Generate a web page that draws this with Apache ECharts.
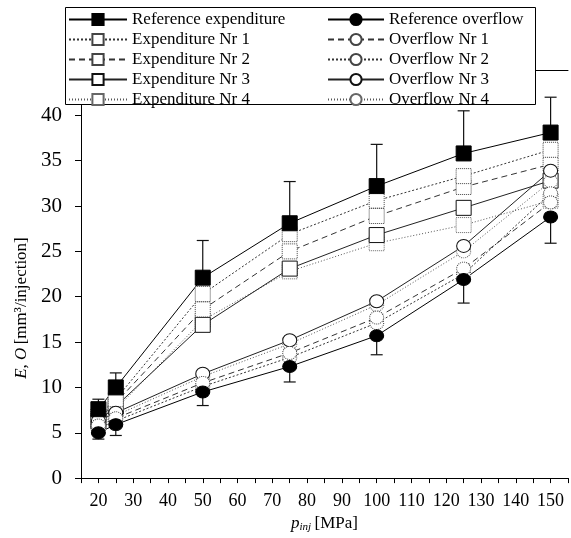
<!DOCTYPE html>
<html>
<head>
<meta charset="utf-8">
<script src="https://cdn.jsdelivr.net/npm/echarts@6/dist/echarts.min.js"></script>
<style>
html,body{margin:0;padding:0;background:#fff;}
#chart{width:571px;height:538px;}
</style>
</head>
<body>
<div id="chart"></div>
<script>
const pressure = [20, 25, 50, 75, 100, 125, 150];
const refExpenditure = [7.6, 10.0, 22.1, 28.1, 32.2, 35.8, 38.1];
const refExpenditureErrTop = [8.7, 11.6, 26.2, 32.7, 36.8, 40.5, 42.0];
const expenditureNr1 = [6.9, 8.7, 20.3, 26.9, 30.6, 33.3, 36.2];
const expenditureNr2 = [6.6, 8.3, 18.6, 25.0, 28.9, 32.1, 34.6];
const expenditureNr3 = [6.3, 7.9, 16.9, 23.1, 26.8, 29.8, 32.8];
const expenditureNr4 = [6.1, 7.6, 17.4, 22.8, 25.9, 27.9, 30.6];
const refOverflow = [5.0, 5.9, 9.5, 12.3, 15.7, 21.9, 28.8];
const refOverflowErrBottom = [4.3, 4.7, 8.0, 10.6, 13.6, 19.3, 25.9];
const overflowNr1 = [5.8, 6.6, 10.5, 13.8, 17.7, 23.1, 30.4];
const overflowNr2 = [5.5, 6.3, 10.1, 13.3, 17.1, 22.5, 31.4];
const overflowNr3 = [6.3, 7.2, 11.5, 15.2, 19.5, 25.6, 33.9];
const overflowNr4 = [6.0, 6.9, 11.2, 14.8, 19.1, 25.0, 32.7];

const expNames = ['Reference expenditure', 'Expenditure Nr 1', 'Expenditure Nr 2', 'Expenditure Nr 3', 'Expenditure Nr 4'];
const ovNames = ['Reference overflow', 'Overflow Nr 1', 'Overflow Nr 2', 'Overflow Nr 3', 'Overflow Nr 4'];
const yTicks = [0, 5, 10, 15, 20, 25, 30, 35, 40];
const xTickLabels = [20, 30, 40, 50, 60, 70, 80, 90, 100, 110, 120, 130, 140, 150];

const FONT = 'Liberation Serif';

function pairs(vals) { return pressure.map((p, i) => [p, vals[i]]); }

function lineSeries(name, vals, symbol, size, fill, border, borderType, lineType, lineColor) {
  return {
    type: 'line', name: name, data: pairs(vals),
    symbol: symbol, symbolSize: size, showSymbol: true,
    lineStyle: { color: lineColor, width: 1, type: lineType },
    itemStyle: { color: fill, borderColor: border, borderWidth: 1, borderType: borderType },
    emphasis: { disabled: true }, z: 3, animation: false
  };
}

function errSeries(name, vals, ends) {
  return {
    type: 'custom', name: name + ' err',
    data: pressure.map((p, i) => [p, vals[i], ends[i]]),
    encode: { x: 0, y: [1, 2] },
    renderItem: function (params, api) {
      const a = api.coord([api.value(0), api.value(1)]);
      const b = api.coord([api.value(0), api.value(2)]);
      const w = 6;
      return {
        type: 'group',
        children: [
          { type: 'line', shape: { x1: a[0], y1: a[1], x2: b[0], y2: b[1] }, style: { stroke: '#111', lineWidth: 1.2 } },
          { type: 'line', shape: { x1: b[0] - w, y1: b[1], x2: b[0] + w, y2: b[1] }, style: { stroke: '#111', lineWidth: 1.2 } }
        ]
      };
    },
    z: 2, silent: true, animation: false
  };
}

const chart = echarts.init(document.getElementById('chart'), null, { renderer: 'canvas' });

const legendText = { fontFamily: FONT, fontSize: 17, color: '#000' };

const option = {
  backgroundColor: '#fff',
  animation: false,
  grid: { left: 81, top: 70, right: -8, bottom: 57, containLabel: false },
  xAxis: [{
    type: 'value', min: 15, max: 155, interval: 5,
    axisLine: { show: true, lineStyle: { color: '#000', width: 1 } },
    axisTick: { show: true, inside: false, length: 5, lineStyle: { color: '#000' } },
    splitLine: { show: false },
    axisLabel: {
      show: true, margin: 14, color: '#000', fontFamily: FONT, fontSize: 18,
      showMinLabel: true, showMaxLabel: true,
      formatter: function (v) { return xTickLabels.indexOf(v) >= 0 ? String(v) : ''; }
    },
    name: '{i|p}{s|inj} {n|[MPa]}', nameLocation: 'middle', nameGap: 33,
    nameTextStyle: {
      rich: {
        i: { fontFamily: FONT, fontStyle: 'italic', fontSize: 17, color: '#000' },
        s: { fontFamily: FONT, fontStyle: 'italic', fontSize: 11, color: '#000', verticalAlign: 'bottom', padding: [8, 0, 0, 0] },
        n: { fontFamily: FONT, fontSize: 17, color: '#000' }
      }
    }
  }, {
    type: 'value', position: 'top', min: 15, max: 155,
    axisLine: { show: true, onZero: false, lineStyle: { color: '#000', width: 1 } },
    axisTick: { show: false }, axisLabel: { show: false }, splitLine: { show: false }
  }],
  yAxis: {
    type: 'value', min: 0, max: 45, interval: 5,
    axisLine: { show: true, lineStyle: { color: '#000', width: 1 } },
    axisTick: { show: true, inside: false, length: 6, lineStyle: { color: '#000' } },
    splitLine: { show: false },
    axisLabel: {
      margin: 19, color: '#000', fontFamily: FONT, fontSize: 21,
      formatter: function (v) { return yTicks.indexOf(v) >= 0 ? String(v) : ''; }
    }
  },
  legend: [{
    data: expNames, orient: 'vertical', left: 68, top: 11, padding: 0,
    itemWidth: 58, itemHeight: 14, itemGap: 3, z: 100,
    textStyle: legendText,
    selectedMode: false
  }, {
    data: ovNames, orient: 'vertical', left: 327, top: 11, padding: 0,
    itemWidth: 56, itemHeight: 14, itemGap: 3, z: 100,
    textStyle: legendText,
    selectedMode: false
  }],
  graphic: [{
    type: 'rect', left: 65, top: 7, z: 90,
    shape: { width: 470, height: 97 },
    style: { fill: '#fff', stroke: '#000', lineWidth: 1 }
  }, {
    type: 'text', z: 90, x: 22, y: 308, rotation: Math.PI / 2,
    style: {
      text: '{i|E, O} {n|[mm³/injection]}',
      align: 'center', verticalAlign: 'middle',
      rich: {
        i: { fontFamily: FONT, fontStyle: 'italic', fontSize: 17, fill: '#000' },
        n: { fontFamily: FONT, fontSize: 17, fill: '#000' }
      }
    }
  }],
  series: [
    errSeries('Reference expenditure', refExpenditure, refExpenditureErrTop),
    errSeries('Reference overflow', refOverflow, refOverflowErrBottom),
    lineSeries('Expenditure Nr 4', expenditureNr4, 'rect', 15, '#fff', '#666', 'dotted', [1, 2], '#555'),
    lineSeries('Expenditure Nr 3', expenditureNr3, 'rect', 15, '#fff', '#111', 'solid', 'solid', '#222'),
    lineSeries('Expenditure Nr 2', expenditureNr2, 'rect', 15, '#fff', '#444', 'dotted', [6, 4], '#333'),
    lineSeries('Expenditure Nr 1', expenditureNr1, 'rect', 15, '#fff', '#444', 'dotted', [2, 2], '#333'),
    lineSeries('Overflow Nr 4', overflowNr4, 'circle', [14, 13], '#fff', '#666', 'dotted', [1, 2], '#555'),
    lineSeries('Overflow Nr 3', overflowNr3, 'circle', [14, 13], '#fff', '#111', 'solid', 'solid', '#222'),
    lineSeries('Overflow Nr 2', overflowNr2, 'circle', [14, 13], '#fff', '#444', 'dotted', [2, 2], '#333'),
    lineSeries('Overflow Nr 1', overflowNr1, 'circle', [14, 13], '#fff', '#444', 'dotted', [6, 4], '#333'),
    lineSeries('Reference overflow', refOverflow, 'circle', [14, 12], '#000', '#000', 'solid', 'solid', '#000'),
    lineSeries('Reference expenditure', refExpenditure, 'rect', 15, '#000', '#000', 'solid', 'solid', '#000')
  ]
};
chart.setOption(option);
</script>
</body>
</html>
